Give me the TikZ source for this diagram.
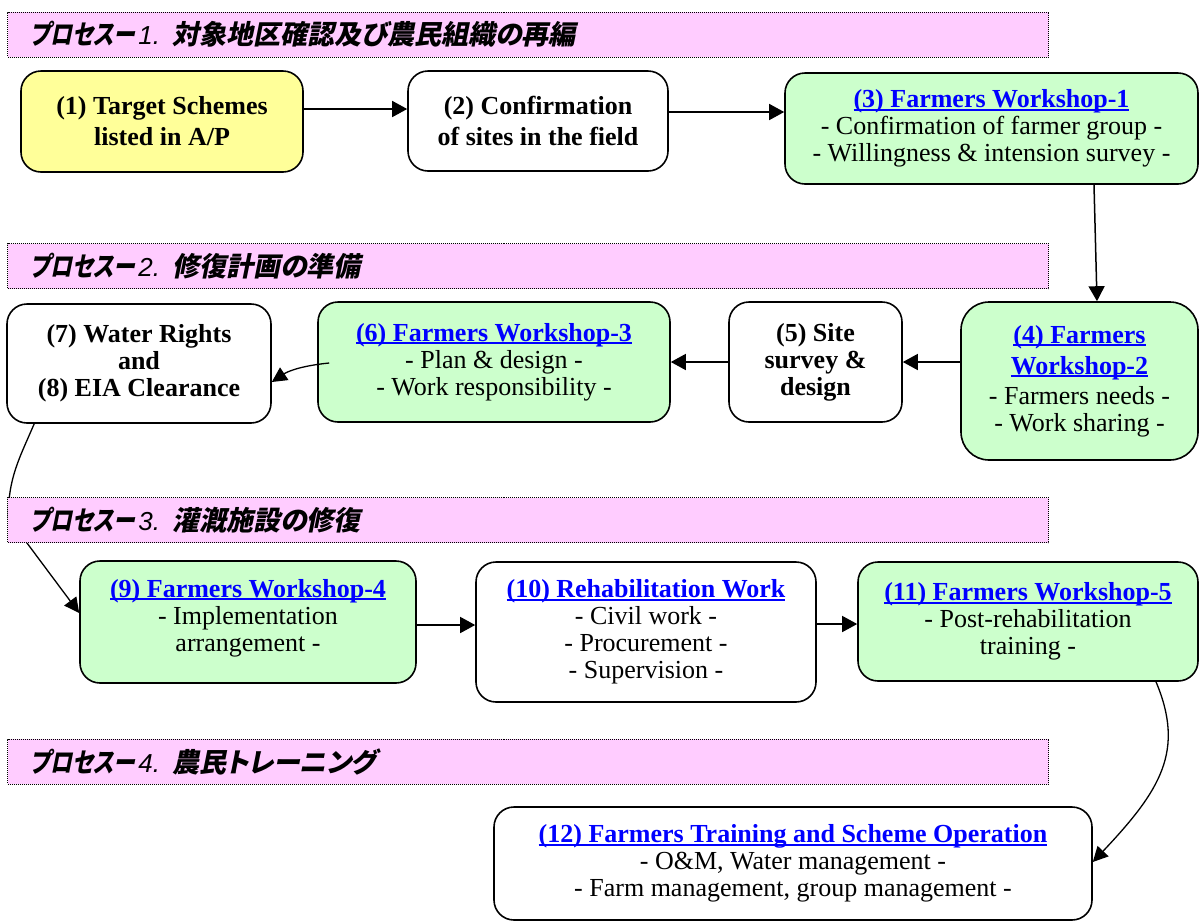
\documentclass[tikz,border=0pt]{standalone}
\usepackage{fontspec}
\setmainfont{Liberation Serif}
\newfontfamily\jpfont[RawFeature=+palt,FakeSlant=0.2]{Noto Sans CJK JP}
\newfontfamily\jpkana[RawFeature=+palt,FakeSlant=0.2,FakeStretch=0.8]{Noto Sans CJK JP}
\newfontfamily\numfont{Liberation Sans}
\usetikzlibrary{arrows.meta,calc}
\definecolor{bannerpink}{HTML}{FFCCFF}
\definecolor{boxgreen}{HTML}{CCFFCC}
\definecolor{boxyellow}{HTML}{FFFF99}
\definecolor{linkblue}{HTML}{0000FF}
% underlined blue heading inside a box
\newcommand\lnk[1]{{\bfseries\color{linkblue}\setbox0\hbox{#1}\rlap{\rule[-3pt]{\wd0}{2pt}}\box0}}
% stage heading: katakana prefix, number, title
\newcommand\stagetitle[2]{{\fontsize{27}{30}\selectfont\jpkana\bfseries プロセスー}\kern4pt
  {\fontsize{26}{30}\selectfont\numfont\itshape #1.}\kern12pt
  {\fontsize{27}{30}\selectfont\jpfont\bfseries #2}}
\begin{document}
\begin{tikzpicture}[x=1pt,y=-1pt,
  box/.style={draw, line width=1.6pt, rounded corners=20pt, align=center, inner sep=0pt,
    font=\fontsize{26}{27}\selectfont},
  plainbox/.style={box, fill=white},
  wsbox/.style={box, fill=boxgreen},
  banner/.style={draw=black, fill=bannerpink, dash pattern=on 1pt off 1pt, line width=1pt,
    minimum height=45pt, inner xsep=23pt, inner ysep=0pt, text width=995pt, align=left, anchor=west},
  arr/.style={line width=1.5pt, -{Triangle[length=15pt,width=16pt]}},
  carr/.style={line width=1.3pt, -{Triangle[length=15pt,width=15pt]}}]
\useasboundingbox (0,0) rectangle (1200,922);

% process boxes
\node[box, fill=boxyellow, minimum width=282pt, minimum height=101pt,
  font=\fontsize{26}{31}\selectfont\bfseries] (b1) at (162,121.5) {(1) Target Schemes\\listed in A/P};
\node[plainbox, minimum width=260pt, minimum height=100pt,
  font=\fontsize{26}{31}\selectfont\bfseries] (b2) at (538,121) {(2) Confirmation\\of sites in the field};
\node[wsbox, minimum width=413pt, minimum height=111pt] (b3) at (991.5,128.5)
  {\lnk{(3) Farmers Workshop-1}\\- Confirmation of farmer group -\\- Willingness \& intension survey -};
\node[wsbox, minimum width=237pt, minimum height=158pt, rounded corners=28pt] (b4) at (1079.5,381)
  {\lnk{(4) Farmers}\\[4pt]\lnk{Workshop-2}\\[3pt]- Farmers needs -\\- Work sharing -};
\node[plainbox, minimum width=173pt, minimum height=120pt, font=\fontsize{26}{27}\selectfont\bfseries] (b5) at (815.5,362)
  {(5) Site\\survey \&\\design};
\node[wsbox, minimum width=352pt, minimum height=120pt] (b6) at (494,362)
  {\lnk{(6) Farmers Workshop-3}\\- Plan \& design -\\- Work responsibility -};
\node[plainbox, minimum width=264pt, minimum height=119pt, font=\fontsize{26}{27}\selectfont\bfseries] (b7) at (139,363.5)
  {(7) Water Rights\\and\\(8) EIA Clearance};
\node[wsbox, minimum width=336pt, minimum height=122pt, text depth=14pt] (b9) at (248,622)
  {\lnk{(9) Farmers Workshop-4}\\- Implementation\\arrangement -};
\node[plainbox, minimum width=340pt, minimum height=140pt] (b10) at (646,632)
  {\lnk{(10) Rehabilitation Work}\\- Civil work -\\- Procurement -\\- Supervision -};
\node[wsbox, minimum width=340pt, minimum height=119pt] (b11) at (1028,621.5)
  {\lnk{(11) Farmers Workshop-5}\\- Post-rehabilitation\\training -};
\node[plainbox, minimum width=598pt, minimum height=113pt] (b12) at (793,863.5)
  {\lnk{(12) Farmers Training and Scheme Operation}\\- O\&M, Water management -\\- Farm management, group management -};

% connectors
\path ([yshift=12.5pt]b1.east) coordinate (a1);
\draw[arr] (a1) -- (a1 -| b2.west);
\path ([yshift=9pt]b2.east) coordinate (a2);
\draw[arr] (a2) -- (a2 -| b3.west);
\draw[arr] ($(b3.south)+(102.5,0)$) -- ($(b4.north)+(17.5,0)$);
\path ([yshift=19pt]b4.west) coordinate (a4);
\draw[arr] (a4) -- (a4 -| b5.east);
\draw[arr] (b5.west) -- (b5.west -| b6.east);
\draw[carr] ($(b6.west)+(12,1)$) .. controls +(-30,3) and +(15,-10) .. ($(b7.east)+(0,18.5)$);
\draw[carr] ($(b7.south west)+(28,0)$) .. controls +(-15,35) and +(0,-40) .. ($(b7.south west)+(2,94)$)
  -- ($(b9.west)+(0,-9)$);
\path ([yshift=-3pt]b9.east) coordinate (a9);
\draw[arr] (a9) -- (a9 -| b10.west);
\path ([yshift=8pt]b10.east) coordinate (a10);
\draw[arr] (a10) -- (a10 -| b11.west);
\draw[carr] ($(b11.south)+(128,0)$) .. controls +(29,69) and +(68,-72) .. ($(b12.east)+(0,-1.5)$);

% stage banners
\node[banner] (s1) at (7,34.5) {\stagetitle{1}{対象地区確認及び農民組織の再編}};
\node[banner] (s2) at (7,266) {\stagetitle{2}{修復計画の準備}};
\node[banner] (s3) at (7,520) {\stagetitle{3}{灌漑施設の修復}};
\node[banner] (s4) at (7,761.5) {\stagetitle{4}{農民トレーニング}};
\end{tikzpicture}
\end{document}
